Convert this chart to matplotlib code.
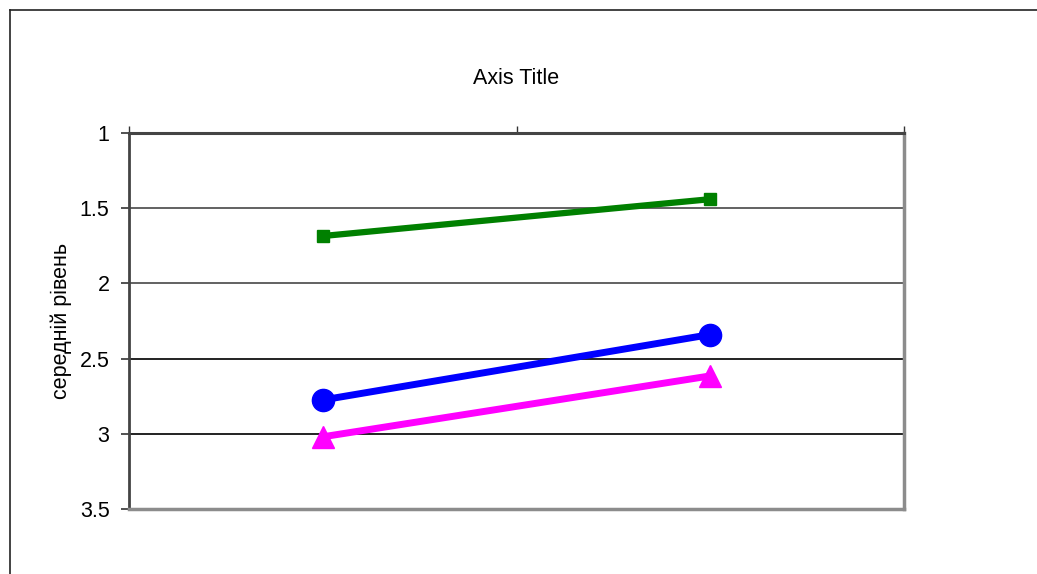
import numpy as np
import matplotlib.pyplot as plt
from matplotlib.lines import Line2D

plt.rcParams['font.family'] = ['Liberation Sans', 'DejaVu Sans']

# data
categories = [1, 2]
green_vals = [1.685, 1.44]
blue_vals = [2.775, 2.34]
magenta_vals = [3.02, 2.615]
yticks = [1, 1.5, 2, 2.5, 3, 3.5]
ytick_labels = ['1', '1.5', '2', '2.5', '3', '3.5']

fig = plt.figure(figsize=(10.37, 5.74), dpi=100)
ax = fig.add_axes([129/1037, 1 - 509/574, (904-129)/1037, (509-133)/574])

ax.plot(categories, green_vals, color='#008000', lw=4.5, marker='s', ms=8.5, zorder=3)
ax.plot(categories, blue_vals, color='#0000ff', lw=5, marker='o', ms=16, zorder=3)
ax.plot(categories, magenta_vals, color='#ff00ff', lw=5, marker='^', ms=16, zorder=3)

ax.set_xlim(0.5, 2.5)
ax.set_ylim(3.5, 1)
ax.set_yticks(yticks)
ax.set_yticklabels(ytick_labels, fontsize=15.5)
ax.tick_params(axis='y', direction='out', length=6, width=1.2, color='#333333', pad=8)

# category axis sits at the top (value 1)
ax.xaxis.tick_top()
ax.set_xticks([0.5, 1.5, 2.5])
ax.set_xticklabels([])
ax.tick_params(axis='x', direction='out', length=5, width=1, color='#333333')

for v in yticks[1:-1]:
    ax.axhline(v, color='#555555' if v < 2.5 else '#111111', lw=1.3, zorder=1)

ax.spines['top'].set_color('#444444')
ax.spines['top'].set_linewidth(2.2)
ax.spines['left'].set_color('#444444')
ax.spines['left'].set_linewidth(2)
ax.spines['right'].set_color('#8c8c8c')
ax.spines['right'].set_linewidth(2.5)
ax.spines['bottom'].set_color('#8c8c8c')
ax.spines['bottom'].set_linewidth(2.5)

ax.set_ylabel('середній рівень', fontsize=15.5)
ax.yaxis.set_label_coords(-0.073, 0.5)
fig.text(516/1037, 1 - 78/574, 'Axis Title', ha='center', va='center', fontsize=15.5)

# chart area border (left and top edges visible)
fig.add_artist(Line2D([10/1037, 10/1037], [0, 1 - 10/574], color='#222222', lw=1.2))
fig.add_artist(Line2D([10/1037, 1], [1 - 10/574, 1 - 10/574], color='#222222', lw=1.2))

fig.savefig('out.png', dpi=100)
